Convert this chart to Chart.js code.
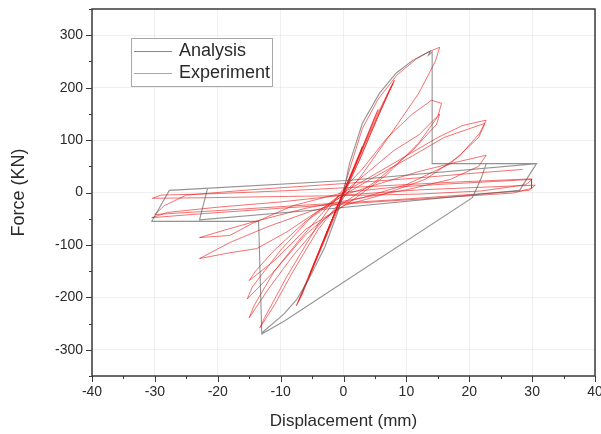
<!DOCTYPE html>
<html>
<head>
<meta charset="utf-8">
<script src="https://cdn.jsdelivr.net/npm/chart.js@4.4.0/dist/chart.umd.min.js"></script>
<style>
    html, body { margin: 0; padding: 0; background: #fff; }
</style>
</head>
<body>
<canvas id="hysteresis-chart" width="601" height="434"></canvas>
<script>
// Analysis curve, [displacement mm, force kN], in drawing order
const analysisPath = [
    [-13.0, -268], [-9.5, -232], [-7.5, -205], [-5.5, -165], [-3.0, -105], [-1.0, -40],
    [0, 0], [0.95, 55], [3.0, 132], [5.7, 189], [8.4, 228], [11.0, 252], [13.2, 266],
    [13.8, 270], [13.5, 262], [14.1, 268], [14.1, 55], [30.7, 55], [22.7, 55],
    [21.9, 27], [20.5, -10], [-9.4, -245], [-13.0, -270], [-13.5, -55], [-30.5, -55],
    [-27.7, 4], [0.5, 23], [30.7, 55], [28.0, 4], [-2.2, -31], [-22.9, -52], [-21.6, 9]
];

// Experiment cycles, [displacement mm, force kN]
const cycle1 = [[0, 0], [1.5, 45], [3, 88], [2.6, 74], [0.2, 6], [-1.5, -42], [-3, -88], [-2.6, -75], [-0.2, -4]];
const cycle2 = [[1.5, 42], [3.5, 100], [5.5, 158], [4.9, 142], [0.6, 14], [-2.5, -70], [-5.5, -160], [-5, -146], [-0.4, -10]];
const cycle3 = [[2, 55], [5, 140], [8.1, 214], [7.4, 198], [3.5, 95], [0.5, 12], [-3, -85], [-7.5, -216], [-6.9, -202], [-3.5, -105], [-0.5, -14]];
const cycle4 = [[2.5, 60], [5.5, 145], [7.9, 208], [7.2, 192], [0.8, 15], [-7.2, -208], [-6.5, -192], [-0.3, -6]];
const cycle5 = [[1, 45], [3, 122], [5.5, 178], [8.5, 224], [11.5, 254], [13.5, 268], [15.3, 277], [14.6, 250], [12, 190], [8, 120], [3, 35], [0, -10], [-4, -70], [-8, -150], [-11, -215], [-13.3, -258], [-12.6, -240], [-9, -160], [-4, -60], [-0.5, 0]];
const cycle6 = [[3, 45], [7, 105], [11, 150], [14, 176], [15.6, 170], [15, 145], [12, 95], [7, 35], [2, -10], [-3, -50], [-8, -120], [-12, -185], [-15, -239], [-14.2, -215], [-11, -150], [-7, -90], [-2, -20], [0, 0]];
const cycle7 = [[4, 40], [8, 80], [12, 110], [15.3, 150], [14.8, 130], [11, 80], [5, 20], [0, -20], [-6, -80], [-11, -150], [-15.3, -203], [-14.5, -180], [-10, -110], [-5, -45], [0, 0]];
const cycle8 = [[5, 35], [10, 70], [15, 105], [19, 128], [22.7, 138], [21.6, 112], [18.5, 70], [13, 25], [6, -5], [0, -25], [-6, -70], [-11, -130], [-15, -168], [-14, -150], [-11, -110], [-6, -55], [0, -5]];
const cycle9 = [[5, 30], [11, 70], [16, 105], [22.5, 132], [21.5, 105], [17, 55], [10, 15], [3, -10], [-5, -35], [-12, -65], [-18, -95], [-22.9, -126], [-18.1, -115], [-13.8, -107], [-9, -75], [-4, -35], [0, -5]];
const cycle10 = [[6, 18], [12, 40], [18, 58], [22.7, 71], [21.5, 50], [17, 25], [10, 5], [2, -12], [-6, -30], [-14, -55], [-19, -72], [-22.9, -86], [-18.1, -82], [-14.5, -59], [-8, -25], [0, 0]];
const cycle11 = [[8, 10], [16, 16], [24, 21], [30, 25], [29, 15], [22, 3], [12, -3], [0, -6], [-12, -8], [-22, -10], [-30.4, -11], [-29, -5], [-20, -2], [-8, 4], [5, 12], [18, 20], [29.9, 26]];
const cycle12 = [[29.9, 8], [27, -1], [18, -8], [5, -18], [-10, -30], [-22, -40], [-30.5, -48], [-28, -38], [-20, -28], [-10, -18], [0, -5], [12, 5], [22, 10], [30.5, 14]];
const cycle13 = [[29.5, 4], [20, -4], [8, -14], [-6, -24], [-18, -33], [-30, -42], [-28.5, -25], [-25, -5], [-15, 5], [0, 17], [12, 28], [22, 38], [28.5, 44]];

const experimentCycles = [cycle1, cycle2, cycle3, cycle4, cycle5, cycle6, cycle7, cycle8, cycle9, cycle10, cycle11, cycle12, cycle13];

function toPoints(pairs) {
    return pairs.map(p => ({ x: p[0], y: p[1] }));
}

const FONT = "'Liberation Sans', Arial, sans-serif";

// Frame box and outward tick marks, placed from the scales
const frameAndTicks = {
    id: 'frameAndTicks',
    afterDraw(chart) {
        const { ctx, chartArea: a, scales: { x, y } } = chart;
        ctx.save();
        ctx.strokeStyle = '#3a3a3a';
        ctx.lineWidth = 1;
        ctx.beginPath();
        x.ticks.forEach(t => {
            const px = Math.round(x.getPixelForValue(t.value)) + 0.5;
            const len = t.value % 10 === 0 ? 6 : 3;
            ctx.moveTo(px, a.bottom);
            ctx.lineTo(px, a.bottom + len);
        });
        y.ticks.forEach(t => {
            const py = Math.round(y.getPixelForValue(t.value)) + 0.5;
            const len = t.value % 100 === 0 ? 6 : 3;
            ctx.moveTo(a.left, py);
            ctx.lineTo(a.left - len, py);
        });
        ctx.stroke();
        ctx.lineWidth = 1.5;
        ctx.strokeRect(a.left, a.top, a.right - a.left, a.bottom - a.top);
        ctx.restore();
    }
};

// Legend box inside the plot, top left
const insetLegend = {
    id: 'insetLegend',
    afterDraw(chart) {
        const ctx = chart.ctx;
        ctx.save();
        ctx.fillStyle = '#fff';
        ctx.fillRect(131, 38, 141, 48);
        ctx.strokeStyle = '#a8a8a8';
        ctx.lineWidth = 1;
        ctx.strokeRect(131.5, 38.5, 141, 48);
        ctx.font = '18px ' + FONT;
        ctx.textBaseline = 'middle';
        chart.data.datasets.forEach((ds, i) => {
            const yy = 51 + i * 22;
            ctx.strokeStyle = ds.legendColor;
            ctx.beginPath();
            ctx.moveTo(134, yy + 0.5);
            ctx.lineTo(172, yy + 0.5);
            ctx.stroke();
            ctx.fillStyle = '#2a2a2a';
            ctx.fillText(ds.label, 179, yy);
        });
        ctx.restore();
    }
};

const ctx = document.getElementById('hysteresis-chart').getContext('2d');
const hysteresisChart = new Chart(ctx, {
    type: 'scatter',
    data: {
        datasets: [
            {
                label: 'Analysis',
                data: toPoints(analysisPath),
                showLine: true,
                borderColor: 'rgba(80,80,80,0.62)',
                legendColor: '#8a8a8a',
                borderWidth: 1.1,
                pointRadius: 0,
                tension: 0
            },
            {
                label: 'Experiment',
                data: toPoints(experimentCycles.flat()),
                showLine: true,
                borderColor: 'rgba(235,20,20,0.6)',
                legendColor: '#f08a8a',
                borderWidth: 1,
                pointRadius: 0,
                tension: 0
            }
        ]
    },
    options: {
        responsive: false,
        animation: false,
        devicePixelRatio: 1,
        layout: { padding: { top: 9, right: 6, left: 0, bottom: 0 } },
        plugins: {
            legend: { display: false },
            tooltip: { enabled: false }
        },
        scales: {
            x: {
                type: 'linear',
                min: -40,
                max: 40,
                border: { display: false },
                afterFit: scale => {
                    scale.height = 58;
                    scale.paddingLeft = 0;
                    scale.paddingRight = 0;
                },
                grid: {
                    drawTicks: false,
                    color: c => (c.tick.value % 10 === 0 ? 'rgba(0,0,0,0.06)' : 'rgba(0,0,0,0)')
                },
                ticks: {
                    stepSize: 5,
                    autoSkip: false,
                    maxRotation: 0,
                    padding: 8,
                    color: '#2a2a2a',
                    font: { family: FONT, size: 14 },
                    callback: v => (v % 10 === 0 ? String(v) : '')
                },
                title: {
                    display: true,
                    text: 'Displacement (mm)',
                    color: '#2a2a2a',
                    font: { family: FONT, size: 17 },
                    padding: { top: 0, bottom: 2 }
                }
            },
            y: {
                type: 'linear',
                min: -350,
                max: 350,
                border: { display: false },
                afterFit: scale => {
                    scale.width = 92;
                    scale.paddingTop = 0;
                    scale.paddingBottom = 0;
                },
                grid: {
                    drawTicks: false,
                    color: c => (c.tick.value % 100 === 0 ? 'rgba(0,0,0,0.06)' : 'rgba(0,0,0,0)')
                },
                ticks: {
                    stepSize: 50,
                    autoSkip: false,
                    padding: 9,
                    color: '#2a2a2a',
                    font: { family: FONT, size: 14 },
                    callback: v => (v % 100 === 0 && Math.abs(v) <= 300 ? String(v) : '')
                },
                title: {
                    display: true,
                    text: 'Force (KN)',
                    color: '#2a2a2a',
                    font: { family: FONT, size: 18 },
                    padding: { top: 8, bottom: 0 }
                }
            }
        }
    },
    plugins: [frameAndTicks, insetLegend]
});
</script>
</body>
</html>
